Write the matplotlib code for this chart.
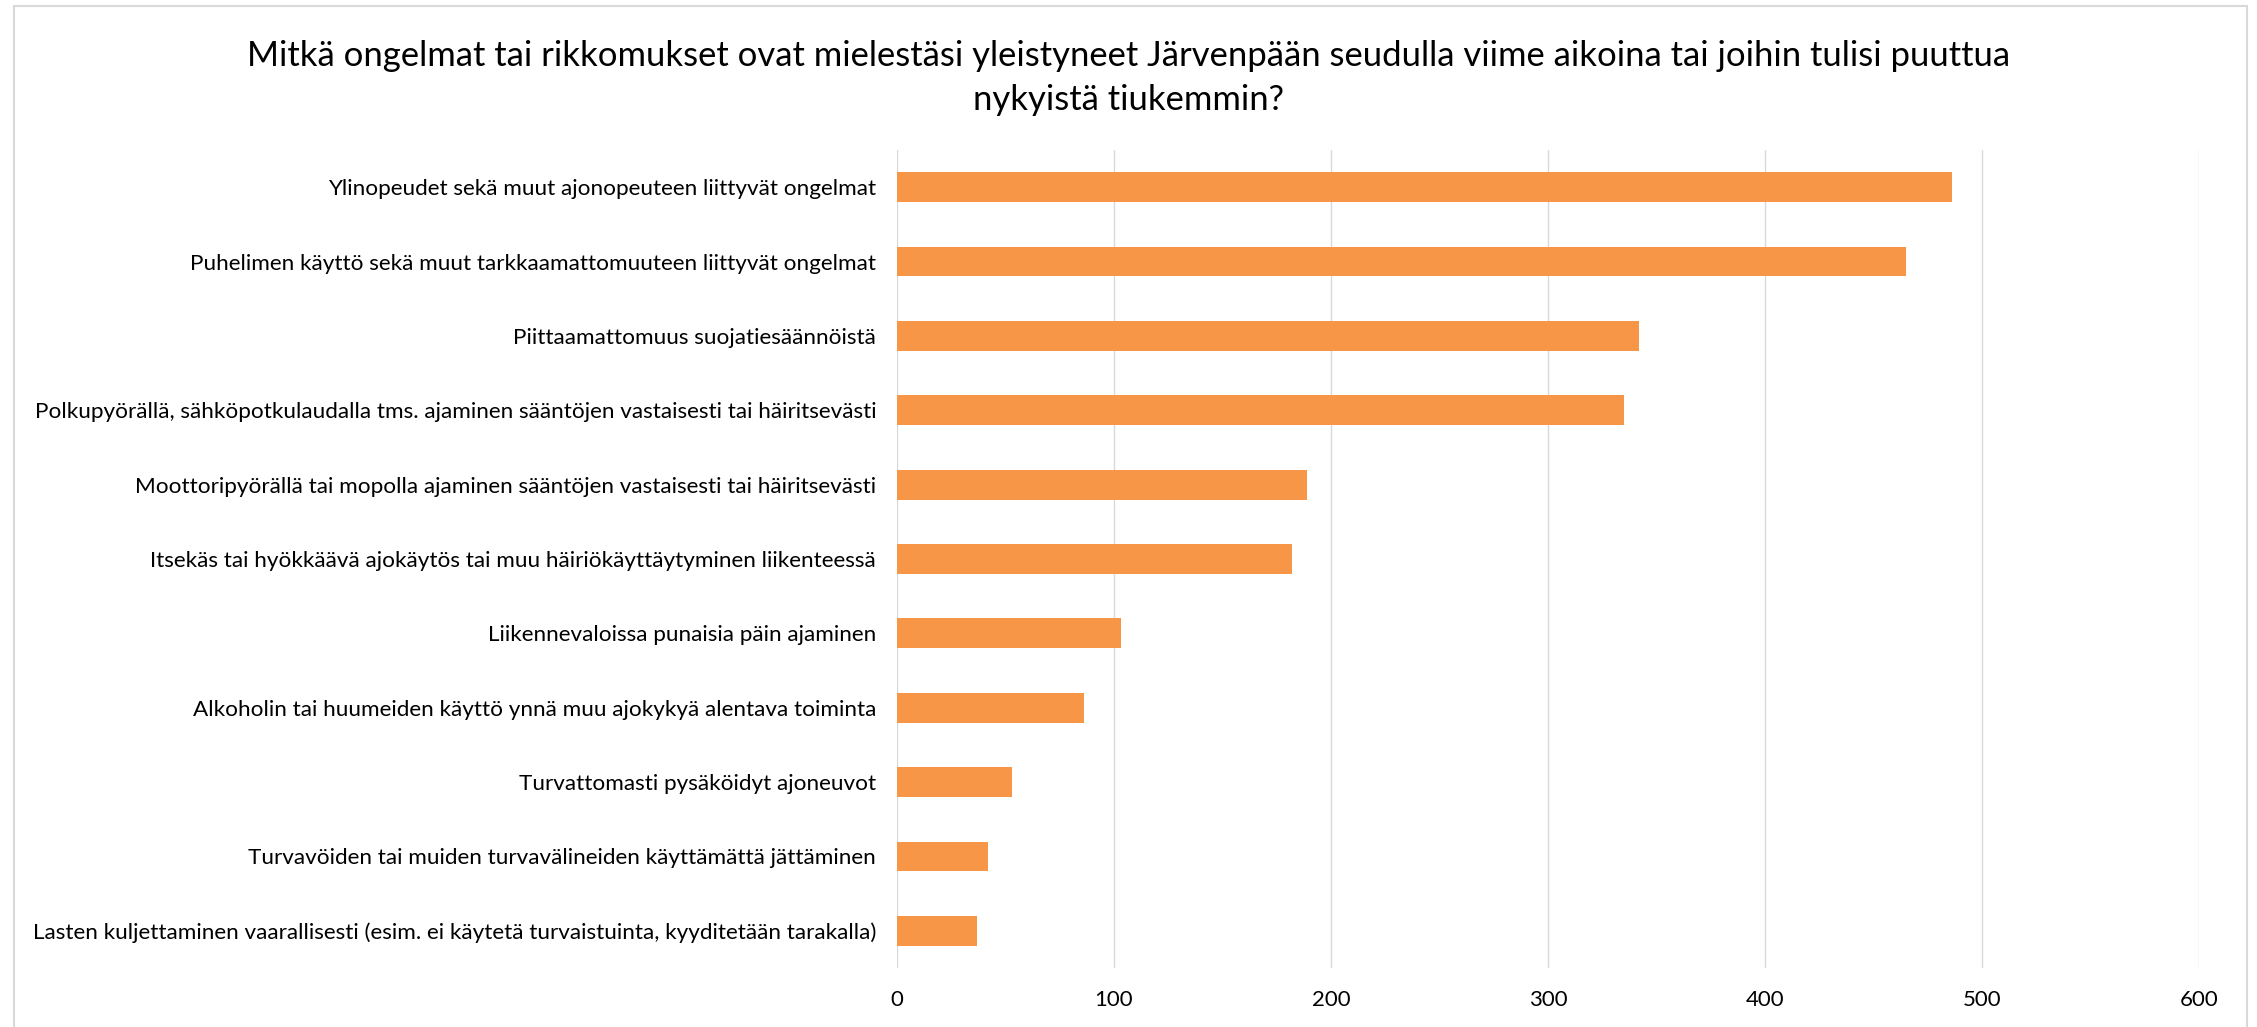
import matplotlib
matplotlib.use("Agg")
import matplotlib.pyplot as plt
from matplotlib.patches import Rectangle

plt.rcParams['font.family'] = ['Lato', 'DejaVu Sans']

title = ("Mitkä ongelmat tai rikkomukset ovat mielestäsi yleistyneet Järvenpään seudulla viime aikoina tai joihin tulisi puuttua\n"
         "nykyistä tiukemmin?")

categories = [
    "Ylinopeudet sekä muut ajonopeuteen liittyvät ongelmat",
    "Puhelimen käyttö sekä muut tarkkaamattomuuteen liittyvät ongelmat",
    "Piittaamattomuus suojatiesäännöistä",
    "Polkupyörällä, sähköpotkulaudalla tms. ajaminen sääntöjen vastaisesti tai häiritsevästi",
    "Moottoripyörällä tai mopolla ajaminen sääntöjen vastaisesti tai häiritsevästi",
    "Itsekäs tai hyökkäävä ajokäytös tai muu häiriökäyttäytyminen liikenteessä",
    "Liikennevaloissa punaisia päin ajaminen",
    "Alkoholin tai huumeiden käyttö ynnä muu ajokykyä alentava toiminta",
    "Turvattomasti pysäköidyt ajoneuvot",
    "Turvavöiden tai muiden turvavälineiden käyttämättä jättäminen",
    "Lasten kuljettaminen vaarallisesti (esim. ei käytetä turvaistuinta, kyyditetään tarakalla)",
]
values = [486, 465, 342, 335, 189, 182, 103, 86, 53, 42, 37]
xticks = [0, 100, 200, 300, 400, 500, 600]

W, H = 2257, 1027
fig = plt.figure(figsize=(W / 100, H / 100), dpi=100)
ax = fig.add_axes([897 / W, 1 - 968 / H, (2199 - 897) / W, (968 - 150) / H])

ypos = list(range(len(categories)))[::-1]
ax.barh(ypos, values, height=0.40, color="#F79646", zorder=3)
ax.set_ylim(-0.5, len(categories) - 0.5)
ax.set_xlim(0, 600)
ax.set_xticks(xticks)
ax.set_xticklabels([str(t) for t in xticks], fontsize=16)
ax.set_yticks(ypos)
ax.set_yticklabels(categories, fontsize=16.2)
ax.tick_params(axis='x', length=0, pad=16)
ax.tick_params(axis='y', length=0, pad=15)
ax.grid(axis='x', color="#D9D9D9", linewidth=1.0, zorder=0)
for s in ax.spines.values():
    s.set_visible(False)

fig.text(0.5, 1 - 78 / H, title, ha='center', va='center', fontsize=24.9,
         linespacing=1.45, color="#000000")

# outer chart frame
fig.patches.append(Rectangle((14 / W, -0.01), (2247 - 14) / W, 1 - 6 / H + 0.01,
                             transform=fig.transFigure, fill=False,
                             edgecolor="#D9D9D9", linewidth=1.5))

fig.savefig("out.png", dpi=100)
